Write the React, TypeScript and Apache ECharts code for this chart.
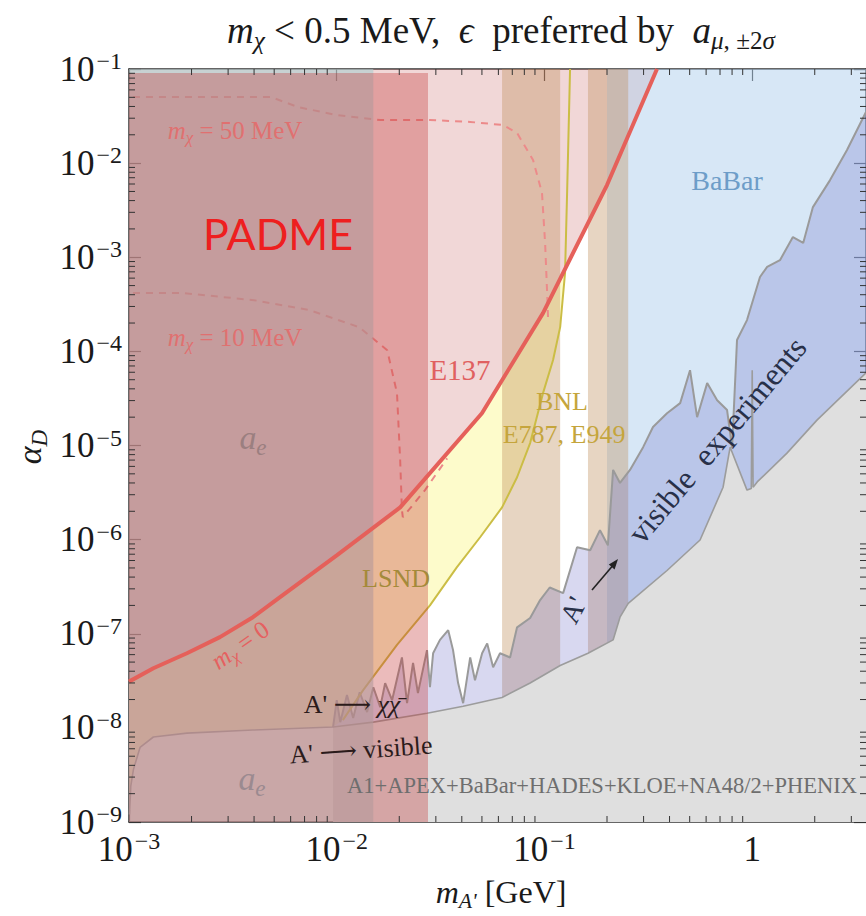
import React, { useEffect, useRef } from "react";
import * as echarts from "echarts";

// ---------- axis ranges and tick values ----------
const X_MIN = 0.001;
const X_MAX = 3.53;
const Y_MIN = 1e-9;
const Y_MAX = 0.1;
const X_DECADES = [0.001, 0.01, 0.1, 1];
const Y_DECADES = [1e-9, 1e-8, 1e-7, 1e-6, 1e-5, 1e-4, 1e-3, 1e-2];
const MINOR_MULTS = [2, 3, 4, 5, 6, 7, 8, 9];

// ---------- curves [m_A' GeV, alpha_D] ----------
const RED_LINE = [
  [1e-3, 3.1e-8], [1.31e-3, 4.3e-8], [1.9e-3, 6.2e-8], [2.74e-3, 9.2e-8], [3.95e-3, 1.5e-7],
  [5.1e-3, 2.28e-7], [1e-2, 6.8e-7], [0.0202, 2.2e-6], [0.05, 2.2e-5], [0.0984, 2.55e-4],
  [0.2, 5.85e-3], [0.348, 0.1],
];
const YELLOW_LINE = [
  [0.0107, 1.21e-8], [0.0134, 2.52e-8], [0.0195, 7.6e-8], [0.0281, 2.0e-7], [0.0379, 5.1e-7],
  [0.049, 1.06e-6], [0.0625, 2.2e-6], [0.0738, 4.6e-6], [0.0853, 1.06e-5], [0.0984, 3.6e-5],
  [0.11, 8.1e-5], [0.119, 1.81e-4], [0.1256, 6.8e-4], [0.1285, 4.8e-3], [0.1328, 0.1],
];
const YELLOW_RED_CROSS = [0.1256, 7.2e-4];
const A_LINE = [
  [1.005e-3, 1.2e-9], [1.02e-3, 2.4e-9], [1.05e-3, 3.6e-9], [1.13e-3, 6.2e-9], [1.31e-3, 8.0e-9],
  [1.9e-3, 8.8e-9], [3.95e-3, 9.5e-9], [9.6e-3, 1.02e-8], [0.015, 1.15e-8], [0.0272, 1.43e-8],
  [0.0406, 1.7e-8], [0.0625, 2.1e-8], [0.0853, 3.0e-8], [0.119, 4.6e-8], [0.162, 6.2e-8],
  [0.214, 8.6e-8], [0.231, 1.5e-7], [0.253, 2.1e-7], [0.389, 4.7e-7], [0.561, 9.9e-7],
  [0.724, 3.6e-6], [0.783, 9.6e-6], [0.944, 3.36e-6], [0.99, 3.5e-6], [1.0, 6.3e-5],
  [1.01, 3.6e-6], [1.057, 4.1e-6], [1.47, 8.3e-6], [2.05, 1.86e-5], [3.53, 5.9e-5],
];
const B_LINE = [
  [9.6e-3, 1.02e-8], [0.01, 1.97e-8], [0.0104, 1.15e-8], [0.0112, 2.23e-8], [0.012, 1.27e-8],
  [0.0129, 2.39e-8], [0.014, 1.47e-8], [0.015, 2.7e-8], [0.0162, 1.66e-8], [0.0171, 2.99e-8],
  [0.01847, 1.97e-8], [0.0206, 5.6e-8], [0.0218, 1.83e-8], [0.0233, 4.9e-8], [0.0246, 2.34e-8],
  [0.0272, 6.7e-8], [0.0281, 2.7e-8], [0.0291, 6.2e-8], [0.0314, 8.6e-8], [0.0344, 1.09e-7],
  [0.0363, 6.7e-8], [0.0384, 2.99e-8], [0.0406, 1.83e-8], [0.0439, 5.6e-8], [0.0463, 3.2e-8],
  [0.0501, 6.2e-8], [0.053, 7.9e-8], [0.0566, 4.4e-8], [0.0611, 6.2e-8], [0.0683, 5.6e-8],
  [0.0738, 1.17e-7], [0.0853, 1.47e-7], [0.0953, 2.28e-7], [0.106, 3.1e-7], [0.123, 2.7e-7],
  [0.1435, 8.3e-7], [0.166, 7.7e-7], [0.185, 1.26e-6], [0.202, 8.7e-7], [0.214, 5.5e-6],
  [0.231, 4.0e-6], [0.258, 5.5e-6], [0.2985, 9.6e-6], [0.333, 1.57e-5], [0.389, 2.2e-5],
  [0.45, 2.82e-5], [0.502, 6.3e-5], [0.543, 2.0e-5], [0.607, 4.6e-5], [0.678, 3.03e-5],
  [0.757, 2.38e-5], [0.8, 9.4e-6], [0.845, 1.32e-4], [0.944, 2.15e-4], [1.09, 6.17e-4],
  [1.18, 7.9e-4], [1.36, 9.3e-4], [1.57, 1.64e-3], [1.76, 1.42e-3], [1.96, 3.41e-3],
  [2.37, 6.6e-3], [2.86, 0.0138], [3.53, 0.0349],
];
const DASH_50 = [
  [1.045e-3, 0.0503], [4.83e-3, 0.0503], [6.52e-3, 0.0394], [0.01, 0.0324], [0.0162, 0.0287],
  [0.0281, 0.0287], [0.0439, 0.0274], [0.0632, 0.0254], [0.0738, 0.0209], [0.0881, 0.0108],
  [0.0973, 4.8e-3], [0.1007, 1.42e-3], [0.103, 4.17e-4], [0.104, 2.31e-4],
];
const DASH_10 = [
  [1.045e-3, 4.17e-4], [1.8e-3, 4.17e-4], [4.0e-3, 3.5e-4], [7.36e-3, 2.75e-4], [0.0128, 1.81e-4],
  [0.0175, 1.03e-4], [0.0195, 3.6e-5], [0.0202, 7.0e-6], [0.0206, 2.06e-6], [0.0208, 1.73e-6],
  [0.0266, 3.36e-6], [0.034, 7.3e-6],
];
// vertical bands [x from, x to]
const BNL_BANDS = [[0.0625, 0.119], [0.162, 0.253]];
const BABAR_BAND = [0.2, X_MAX];
const AE_BAND = [1e-3, 0.015];
const PADME_BAND = [1e-3, 0.0275];
const PADME_TOP = 0.0906;
const GREY_START = 0.0096;

const SERIF = '"Liberation Serif", "DejaVu Serif", serif';

function rect(x0: number, x1: number, y0: number, y1: number) {
  return [[x0, y0], [x1, y0], [x1, y1], [x0, y1]];
}

function polySeries(points: number[][], fill: string, z: number) {
  return {
    type: "custom",
    silent: true,
    clip: true,
    z,
    data: points,
    renderItem: (params: any, api: any) => {
      if (params.dataIndex !== 0) return null;
      return {
        type: "polygon",
        shape: { points: points.map((p) => api.coord(p)) },
        style: { fill, stroke: "none" },
      };
    },
  };
}

function lineSeries(data: number[][], color: string, width: number, z: number, type: any = "solid") {
  return {
    type: "line",
    data,
    symbol: "none",
    showSymbol: false,
    silent: true,
    z,
    lineStyle: { color, width, type },
    emphasis: { disabled: true },
  };
}

function richTokens(size: number, color: string) {
  return {
    n: { fontSize: size, fontFamily: SERIF, fill: color, lineHeight: size * 1.25, verticalAlign: "middle" },
    i: { fontSize: size, fontFamily: SERIF, fontStyle: "italic", fill: color, lineHeight: size * 1.25, verticalAlign: "middle" },
    s: { fontSize: size * 0.68, fontFamily: SERIF, fontStyle: "italic", fill: color, lineHeight: size * 0.7, verticalAlign: "bottom" },
    r: { fontSize: size * 0.68, fontFamily: SERIF, fill: color, lineHeight: size * 0.7, verticalAlign: "bottom" },
  };
}

function txt(x: number, y: number, text: string, size: number, color: string, rotationDeg = 0, family = SERIF) {
  return {
    type: "text",
    x,
    y,
    rotation: (rotationDeg * Math.PI) / 180,
    z: 100,
    silent: true,
    style: {
      text,
      fontSize: size,
      fontFamily: family,
      fill: color,
      align: "center",
      verticalAlign: "middle",
      textAlign: "center",
      textVerticalAlign: "middle",
      rich: richTokens(size, color),
    },
  };
}

function tickLabel(v: number) {
  const l = Math.log10(v);
  const e = Math.round(l);
  if (Math.abs(l - e) > 1e-6) return "";
  if (e === 0) return "{b|1}";
  return "{b|10}{s|\u2212" + -e + "}";
}

export default function App() {
  const ref = useRef<HTMLDivElement>(null);

  useEffect(() => {
    document.body.style.margin = "0";
    if (!ref.current) return;
    const chart = echarts.init(ref.current, undefined, { renderer: "svg" });

    const xMinor = X_DECADES.flatMap((d) => MINOR_MULTS.map((m) => m * d)).filter((v) => v < X_MAX);
    const yMinor = Y_DECADES.flatMap((d) => MINOR_MULTS.map((m) => m * d));

    const redBelowCross = RED_LINE.filter((p) => p[0] < YELLOW_RED_CROSS[0]);
    const yellowPoly = [
      ...A_LINE.filter((p) => p[0] < YELLOW_LINE[0][0]),
      ...YELLOW_LINE.filter((p) => p[0] < YELLOW_RED_CROSS[0]),
      YELLOW_RED_CROSS,
      ...redBelowCross.slice().reverse(),
    ];
    const e137Poly = [...RED_LINE, [X_MIN, Y_MAX]];
    const aRight = A_LINE.filter((p) => p[0] >= GREY_START);
    const greyPoly = [[GREY_START, Y_MIN], ...aRight, [X_MAX, Y_MIN]];
    const bluePoly = [...aRight, ...B_LINE.slice().reverse()];

    const axisColor = "#333";
    const labelRich = {
      b: { fontSize: 35, lineHeight: 40, fontFamily: SERIF, color: "#1a1a1a" },
      s: { fontSize: 24, lineHeight: 26, fontFamily: SERIF, color: "#1a1a1a", verticalAlign: "top", padding: [0, 0, 0, 2] },
    };
    const baseX = {
      type: "log",
      logBase: 10,
      min: X_MIN,
      max: X_MAX,
      splitLine: { show: false },
      axisLine: { show: true, onZero: false, lineStyle: { color: axisColor, width: 1.5 } },
      axisTick: { show: true, inside: true, length: 12, lineStyle: { color: axisColor, width: 1.2 } },
    };
    const baseY = {
      type: "log",
      logBase: 10,
      min: Y_MIN,
      max: Y_MAX,
      splitLine: { show: false },
      axisLine: { show: true, onZero: false, lineStyle: { color: axisColor, width: 1.5 } },
      axisTick: { show: true, inside: true, length: 12, lineStyle: { color: axisColor, width: 1.2 } },
    };

    const minorTickSeries = (vals: number[], isX: boolean) => ({
      type: "custom",
      silent: true,
      clip: false,
      z: 60,
      data: vals.map((v) => (isX ? [v, Y_MIN] : [X_MIN, v])),
      renderItem: (params: any, api: any) => {
        const cs = params.coordSys;
        const pt = api.coord([api.value(0), api.value(1)]);
        const st = { stroke: axisColor, lineWidth: 1 };
        if (isX) {
          const x = pt[0];
          return {
            type: "group",
            children: [
              { type: "line", shape: { x1: x, y1: cs.y + cs.height, x2: x, y2: cs.y + cs.height - 6 }, style: st },
              { type: "line", shape: { x1: x, y1: cs.y, x2: x, y2: cs.y + 6 }, style: st },
            ],
          };
        }
        const y = pt[1];
        return {
          type: "group",
          children: [
            { type: "line", shape: { x1: cs.x, y1: y, x2: cs.x + 6, y2: y }, style: st },
            { type: "line", shape: { x1: cs.x + cs.width, y1: y, x2: cs.x + cs.width - 6, y2: y }, style: st },
          ],
        };
      },
    });

    const titleColor = "#1a1a1a";
    const title = txt(
      501,
      30,
      "{i|m}{s|\u03c7}{n| < 0.5 MeV,  }{i|\u03f5}{n|  preferred by  }{i|a}{s|\u03bc}{r|, \u00b12}{s|\u03c3}",
      37,
      titleColor
    );

    const option: any = {
      animation: false,
      backgroundColor: "#ffffff",
      grid: { left: 129, right: 0, top: 69, bottom: 94, containLabel: false, outerBoundsMode: "none" },
      xAxis: [
        {
          ...baseX,
          position: "bottom",
          axisLabel: { show: true, margin: 7, formatter: tickLabel, rich: labelRich, hideOverlap: false, showMaxLabel: true, showMinLabel: true },
        },
        { ...baseX, position: "top", axisLabel: { show: false } },
      ],
      yAxis: [
        {
          ...baseY,
          position: "left",
          axisLabel: { show: true, margin: 7, formatter: tickLabel, rich: labelRich, hideOverlap: false, showMaxLabel: true, showMinLabel: true },
        },
        { ...baseY, position: "right", axisLabel: { show: false } },
      ],
      series: [
        polySeries(yellowPoly, "#fdfbcb", 3),
        polySeries(e137Poly, "rgba(205,110,110,0.28)", 4),
        polySeries(rect(BABAR_BAND[0], BABAR_BAND[1], Y_MIN, Y_MAX), "rgba(175,208,238,0.5)", 5),
        ...BNL_BANDS.map((b) => polySeries(rect(b[0], b[1], Y_MIN, Y_MAX), "rgba(190,140,90,0.37)", 6)),
        polySeries(bluePoly, "rgba(99,99,195,0.25)", 7),
        polySeries(greyPoly, "#dfdfdf", 8),
        lineSeries(A_LINE, "#9c9c9c", 1.6, 9),
        lineSeries(B_LINE, "#9a9a9a", 2, 9),
        lineSeries(YELLOW_LINE, "#cbbd45", 2, 10),
        lineSeries(DASH_50, "#ec8a8a", 2, 10, [7, 6]),
        lineSeries(DASH_10, "#ec8a8a", 2, 10, [7, 6]),
        polySeries(rect(AE_BAND[0], AE_BAND[1], Y_MIN, Y_MAX), "rgba(171,205,207,0.6)", 11),
        polySeries(rect(PADME_BAND[0], PADME_BAND[1], Y_MIN, PADME_TOP), "rgba(195,50,50,0.33)", 12),
        lineSeries(RED_LINE, "#e5605a", 4, 13),
        minorTickSeries(xMinor, true),
        minorTickSeries(yMinor, false),
      ],
      graphic: [
        title,
        txt(278, 233, "PADME", 43, "#ee1f1f", 0, 'Lato, "Noto Sans", sans-serif'),
        txt(235, 130, "{i|m}{s|\u03c7}{n| = 50 MeV}", 25, "#e07070"),
        txt(235, 337, "{i|m}{s|\u03c7}{n| = 10 MeV}", 25, "#e07070"),
        txt(253, 437, "{i|a}{s|e}", 34, "#9b7f80"),
        txt(252, 778, "{i|a}{s|e}", 34, "#9b8a90"),
        txt(460, 370, "E137", 29, "#e06060"),
        txt(562, 401, "BNL", 26, "#c5a53c"),
        txt(564, 434, "E787, E949", 26, "#c5a53c"),
        txt(396, 578, "LSND", 26, "#a48a3a"),
        txt(727, 180, "BaBar", 28, "#6d9dc8"),
        txt(717, 440, "visible  experiments", 32, "#283048", 50),
        txt(573, 610, "A'", 28, "#283048", 63),
        txt(240, 645, "{i|m}{s|\u03c7}{n| = 0}", 25, "#e56060", 35),
        txt(352, 704, "{n|A' \u27f6 }{i|\u03c7\u03c7\u0304}", 26, "#2b1b1b"),
        txt(361, 750, "A' \u27f6 visible", 26, "#2b1b1b", 4),
        txt(602, 785, "A1+APEX+BaBar+HADES+KLOE+NA48/2+PHENIX", 22.5, "#6e6e6e"),
        txt(29, 447, "{i|\u03b1}{s|D}", 34, "#1a1a1a", 90),
        txt(501, 892, "{i|m}{s|A'}{n| [GeV]}", 32, "#1a1a1a"),
        {
          type: "line",
          z: 100,
          silent: true,
          shape: { x1: 592, y1: 590, x2: 615, y2: 563 },
          style: { stroke: "#222", lineWidth: 1.6 },
        },
        {
          type: "polygon",
          z: 100,
          silent: true,
          shape: { points: [[618, 559], [614.6, 569.5], [608.8, 564.5]] },
          style: { fill: "#222" },
        },
      ],
    };

    chart.setOption(option);
    return () => chart.dispose();
  }, []);

  return <div ref={ref} style={{ width: 866, height: 916 }} />;
}
